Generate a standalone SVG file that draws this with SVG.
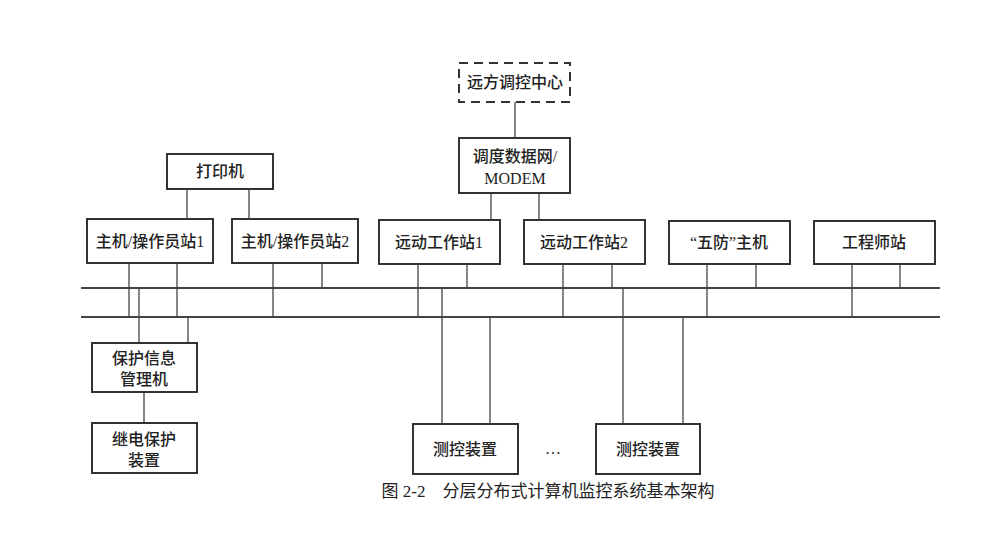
<svg xmlns="http://www.w3.org/2000/svg" width="988" height="541" viewBox="0 0 988 541">
<style>
rect{fill:#fff;stroke:#333;stroke-width:2}
.d{stroke-dasharray:9,6}
line{stroke:#444;stroke-width:1.3}
.bus{stroke-width:2}
text{font-family:"Liberation Serif","Noto Sans CJK SC",serif;font-size:16px;font-weight:500;fill:#222;text-anchor:middle}
.cap{font-size:17px;font-weight:400}
</style>
<rect width="988" height="541" style="fill:#fff;stroke:none"/>
<g id="connectors">
<line class="bus" x1="81" y1="288" x2="940" y2="288"/>
<line class="bus" x1="81" y1="317" x2="940" y2="317"/>
<line x1="515" y1="102" x2="515" y2="138"/>
<line x1="491" y1="193" x2="491" y2="221"/>
<line x1="539" y1="193" x2="539" y2="221"/>
<line x1="187" y1="189" x2="187" y2="219"/>
<line x1="249" y1="189" x2="249" y2="219"/>
<line x1="129" y1="263" x2="129" y2="317"/>
<line x1="177" y1="263" x2="177" y2="317"/>
<line x1="273" y1="263" x2="273" y2="317"/>
<line x1="322" y1="263" x2="322" y2="288"/>
<line x1="418" y1="263" x2="418" y2="317"/>
<line x1="467" y1="263" x2="467" y2="288"/>
<line x1="563" y1="263" x2="563" y2="317"/>
<line x1="612" y1="263" x2="612" y2="288"/>
<line x1="707" y1="264" x2="707" y2="317"/>
<line x1="756" y1="264" x2="756" y2="288"/>
<line x1="852" y1="264" x2="852" y2="317"/>
<line x1="900" y1="264" x2="900" y2="288"/>
<line x1="139" y1="288" x2="139" y2="343"/>
<line x1="188" y1="317" x2="188" y2="343"/>
<line x1="144" y1="392" x2="144" y2="423"/>
<line x1="442" y1="288" x2="442" y2="424"/>
<line x1="490" y1="317" x2="490" y2="424"/>
<line x1="623" y1="288" x2="623" y2="424"/>
<line x1="683" y1="317" x2="683" y2="424"/>
</g>
<g id="remote"><rect class="d" x="459" y="63" width="111" height="39"/><text x="515" y="88">远方调控中心</text></g>
<g id="modem"><rect x="459" y="138" width="111" height="55"/><text x="515" y="162">调度数据网/</text><text x="515" y="184">MODEM</text></g>
<g id="printer"><rect x="167" y="154" width="106" height="35"/><text x="220" y="177">打印机</text></g>
<g id="host1"><rect x="87" y="219" width="126" height="44"/><text x="150" y="247">主机/操作员站1</text></g>
<g id="host2"><rect x="232" y="219" width="126" height="44"/><text x="295" y="247">主机/操作员站2</text></g>
<g id="rtu1"><rect x="379" y="220" width="121" height="44"/><text x="439" y="248">远动工作站1</text></g>
<g id="rtu2"><rect x="524" y="220" width="121" height="44"/><text x="584" y="248">远动工作站2</text></g>
<g id="wufang"><rect x="669" y="221" width="121" height="43"/><text x="729" y="248">“五防”主机</text></g>
<g id="engineer"><rect x="814" y="221" width="121" height="43"/><text x="874" y="248">工程师站</text></g>
<g id="protinfo"><rect x="92" y="343" width="105" height="49"/><text x="144" y="364">保护信息</text><text x="144" y="385">管理机</text></g>
<g id="relay"><rect x="92" y="423" width="105" height="50"/><text x="144" y="445">继电保护</text><text x="144" y="466">装置</text></g>
<g id="mc1"><rect x="413" y="424" width="105" height="50"/><text x="465" y="455">测控装置</text></g>
<text x="553" y="454">…</text>
<g id="mc2"><rect x="596" y="424" width="104" height="50"/><text x="648" y="455">测控装置</text></g>
<text class="cap" x="548" y="497">图 2-2　分层分布式计算机监控系统基本架构</text>
</svg>
